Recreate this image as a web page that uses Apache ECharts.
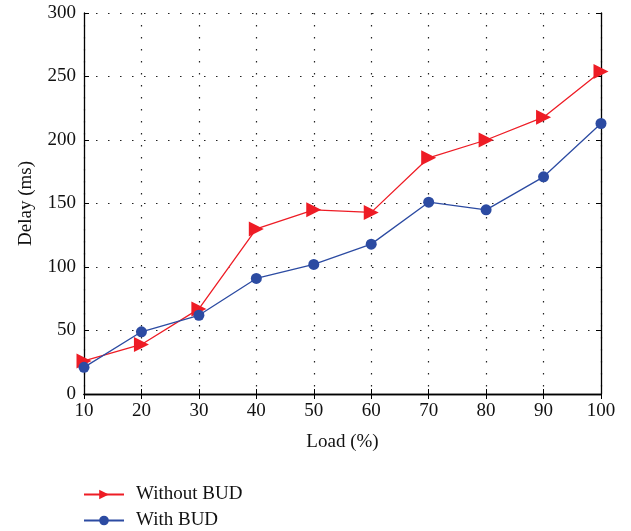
<!DOCTYPE html>
<html><head><meta charset="utf-8">
<script src="https://cdn.jsdelivr.net/npm/echarts@6/dist/echarts.min.js"></script>
<style>html,body{margin:0;padding:0;background:#fff}#c{width:631px;height:531px}</style>
</head><body><div id="c"></div>
<script>
const loads = [10, 20, 30, 40, 50, 60, 70, 80, 90, 100];
const withoutBUD = [26, 39, 67, 130, 145, 143, 186, 200, 218, 254];
const withBUD = [21, 49, 62, 91, 102, 118, 151, 145, 171, 213];
const seriesNames = ['Without BUD', 'With BUD'];

const font = 'Liberation Serif';
const chart = echarts.init(document.getElementById('c'));
const pairs = a => loads.map((x, i) => [x, a[i]]);
const frameAxis = {
  axisLine: {show: true, lineStyle: {color: '#000', width: 1.3}},
  axisTick: {show: true, inside: true, length: 5, lineStyle: {color: '#000'}},
  axisLabel: {show: false},
  splitLine: {show: false}
};
const legendBase = {
  orient: 'horizontal', left: 78, itemWidth: 40, itemHeight: 12,
  textStyle: {fontFamily: font, fontSize: 19, color: '#111', padding: [0, 0, 0, 7]}
};
const grid = {color: '#222', type: [1.5, 10.5], width: 1.2};
chart.setOption({
  animation: false,
  grid: {left: 84, right: 30, top: 13, bottom: 137},
  legend: [
    Object.assign({top: 480, data: [seriesNames[0]]}, legendBase),
    Object.assign({top: 506, data: [seriesNames[1]]}, legendBase)
  ],
  xAxis: [{
    type: 'value', min: 10, max: 100, interval: 10,
    name: 'Load (%)', nameLocation: 'middle', nameGap: 39,
    nameTextStyle: {fontFamily: font, fontSize: 19, color: '#111'},
    axisLine: {show: true, lineStyle: {color: '#000', width: 1.3}},
    axisTick: {show: true, inside: true, length: 5, lineStyle: {color: '#000'}},
    axisLabel: {fontFamily: font, fontSize: 19, color: '#111', margin: 8},
    splitLine: {show: true, lineStyle: grid}
  }, Object.assign({type: 'value', min: 10, max: 100, interval: 10, position: 'top'}, frameAxis)],
  yAxis: [{
    type: 'value', min: 0, max: 300, interval: 50,
    name: 'Delay (ms)', nameLocation: 'middle', nameGap: 48,
    nameTextStyle: {fontFamily: font, fontSize: 19, color: '#111'},
    axisLine: {show: true, lineStyle: {color: '#000', width: 1.3}},
    axisTick: {show: true, inside: true, length: 5, lineStyle: {color: '#000'}},
    axisLabel: {fontFamily: font, fontSize: 19, color: '#111', margin: 8},
    splitLine: {show: true, lineStyle: grid}
  }, Object.assign({type: 'value', min: 0, max: 300, interval: 50, position: 'right'}, frameAxis)],
  series: [{
    name: seriesNames[0], type: 'line', data: pairs(withoutBUD),
    symbol: 'triangle', symbolRotate: -90, symbolSize: 15,
    itemStyle: {color: '#ee1c25'}, lineStyle: {color: '#ee1c25', width: 1.3}, z: 3
  }, {
    name: seriesNames[1], type: 'line', data: pairs(withBUD),
    symbol: 'circle', symbolSize: 11,
    itemStyle: {color: '#2c4ba2'}, lineStyle: {color: '#2c4ba2', width: 1.3}, z: 4
  }]
});
</script></body></html>
